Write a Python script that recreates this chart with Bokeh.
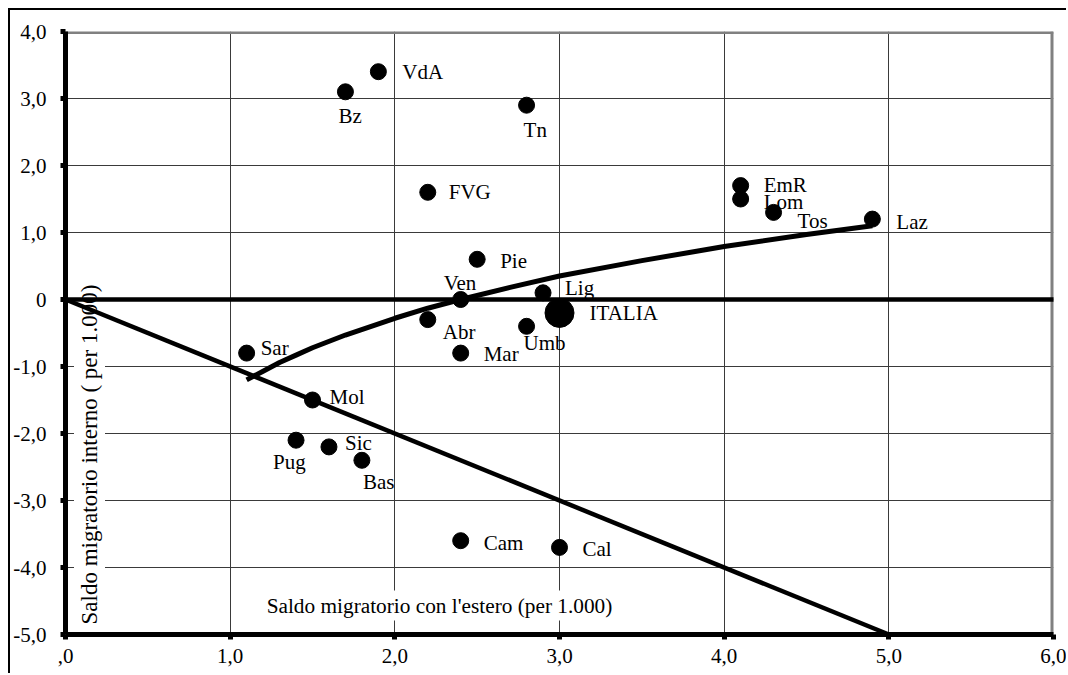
from bokeh.plotting import figure
from bokeh.models import FixedTicker, Label, Range1d, ColumnDataSource
from bokeh.embed import file_html
from bokeh.resources import INLINE
from bokeh.core.properties import value
import math

# ---- data ----
regions = ["VdA", "Bz", "Tn", "FVG", "EmR", "Lom", "Tos", "Laz", "Pie", "Ven", "Lig",
           "Abr", "Umb", "Mar", "Sar", "Mol", "Pug", "Sic", "Bas", "Cam", "Cal"]
saldo_estero = [1.9, 1.7, 2.8, 2.2, 4.1, 4.1, 4.3, 4.9, 2.5, 2.4, 2.9,
                2.2, 2.8, 2.4, 1.1, 1.5, 1.4, 1.6, 1.8, 2.4, 3.0]
saldo_interno = [3.4, 3.1, 2.9, 1.6, 1.7, 1.5, 1.3, 1.2, 0.6, 0.0, 0.1,
                 -0.3, -0.4, -0.8, -0.8, -1.5, -2.1, -2.2, -2.4, -3.6, -3.7]

italia_name = ["ITALIA"]
italia_estero = [3.0]
italia_interno = [-0.2]

# trend curve
trend_x = [1.1, 1.2, 1.3, 1.4, 1.5, 1.7, 2.0, 2.2, 2.4, 2.7, 3.0, 3.5, 4.0, 4.5, 4.9]
trend_y = [-1.2, -1.07, -0.94, -0.83, -0.72, -0.53, -0.28, -0.13, 0.0, 0.18, 0.35,
           0.58, 0.79, 0.97, 1.1]

# diagonal reference line
diag_x = [0.0, 5.0]
diag_y = [0.0, -5.0]

# zero line
zero_x = [0.0, 6.0]
zero_y = [0.0, 0.0]

x_ticks = [0, 1, 2, 3, 4, 5, 6]
x_tick_labels = [",0", "1,0", "2,0", "3,0", "4,0", "5,0", "6,0"]
y_ticks = [4, 3, 2, 1, 0, -1, -2, -3, -4, -5]
y_tick_labels = ["4,0", "3,0", "2,0", "1,0", "0", "-1,0", "-2,0", "-3,0", "-4,0", "-5,0"]

x_title = "Saldo migratorio con l'estero (per 1.000)"
y_title = "Saldo migratorio interno ( per 1.000)"

# ---- label placement (pixel offsets, style only) ----
label_offsets = {
    "VdA": (24, 0), "Bz": (-7, 24), "Tn": (-3, 25), "FVG": (21, 0), "EmR": (23, -1),
    "Lom": (23, 3), "Tos": (24, 9), "Laz": (24, 3), "Pie": (23, 2), "Ven": (-17, -17),
    "Lig": (22, -5), "Abr": (15, 12), "Umb": (-3, 17), "Mar": (23, 1), "Sar": (14, -5),
    "Mol": (17, -3), "Pug": (-23, 22), "Sic": (16, -4), "Bas": (1, 22), "Cam": (23, 2),
    "Cal": (23, 2), "ITALIA": (30, 0),
}

FONT = "Liberation Serif"
FS = "21px"

X0, X1 = 0, 6
Y0, Y1 = -5, 4

p = figure(width=1058, height=665, output_backend="svg", toolbar_location=None,
           x_range=Range1d(X0, X1), y_range=Range1d(Y0, Y1),
           min_border_left=55, min_border_right=15, min_border_top=21, min_border_bottom=41)
p.styles = {"border-top": "2px solid black", "border-left": "2px solid black",
            "margin-top": "8px", "margin-left": "8px"}

p.background_fill_color = "white"
p.border_fill_color = "white"
p.outline_line_color = None

p.xgrid.ticker = FixedTicker(ticks=x_ticks)
p.ygrid.ticker = FixedTicker(ticks=y_ticks)
for g in (p.xgrid[0], p.ygrid[0]):
    g.grid_line_color = "#3a3a3a"
    g.grid_line_width = 1

# grey frame on top and right
p.line([X0, X1], [Y1, Y1], line_color="#808080", line_width=5)
p.line([X1, X1], [Y0, Y1], line_color="#808080", line_width=6)

for ax, ticks, labels in ((p.xaxis[0], x_ticks, x_tick_labels), (p.yaxis[0], y_ticks, y_tick_labels)):
    ax.ticker = FixedTicker(ticks=ticks)
    ax.major_label_overrides = {t: l for t, l in zip(ticks, labels)}
    ax.axis_line_color = "black"
    ax.axis_line_width = 5
    ax.major_tick_line_color = "black"
    ax.major_tick_line_width = 5
    ax.major_tick_out = 5
    ax.major_tick_in = 0
    ax.minor_tick_out = 0
    ax.minor_tick_in = 0
    ax.major_label_text_font = FONT
    ax.major_label_text_font_size = FS
    ax.major_label_text_color = "black"
p.xaxis.major_label_standoff = 9
p.yaxis.major_label_standoff = 14

# axis titles inside the frame, with white boxes
p.add_layout(Label(x=24, y=7, x_units="screen", y_units="screen", text=y_title,
                   angle=math.pi / 2, text_align="left", text_baseline="middle",
                   text_font=FONT, text_font_size="23px", text_color="black",
                   background_fill_color="white", padding=3))
p.add_layout(Label(x=374, y=29, x_units="screen", y_units="screen", text=x_title,
                   text_align="center", text_baseline="middle",
                   text_font=FONT, text_font_size="21.3px", text_color="black",
                   background_fill_color="white", padding=3))

# lines
p.line(zero_x, zero_y, line_color="black", line_width=4.5, level="overlay")
p.line(diag_x, diag_y, line_color="black", line_width=4.5, level="overlay")
p.line(trend_x, trend_y, line_color="black", line_width=5, level="overlay",
       line_join="round")

# points
src = ColumnDataSource(dict(
    x=saldo_estero, y=saldo_interno, name=regions,
    dx=[label_offsets[r][0] for r in regions],
    dy=[label_offsets[r][1] for r in regions],
))
p.scatter("x", "y", source=src, size=16, color="black", level="overlay")
p.text("x", "y", text="name", source=src, x_offset="dx", y_offset="dy",
       text_font=value(FONT), text_font_size=FS, text_color="black",
       text_align="left", text_baseline="middle")

isrc = ColumnDataSource(dict(
    x=italia_estero, y=italia_interno, name=italia_name,
    dx=[label_offsets[n][0] for n in italia_name],
    dy=[label_offsets[n][1] for n in italia_name],
))
p.scatter("x", "y", source=isrc, size=29, color="black", level="overlay")
p.text("x", "y", text="name", source=isrc, x_offset="dx", y_offset="dy",
       text_font=value(FONT), text_font_size=FS, text_color="black",
       text_align="left", text_baseline="middle")

open("out.html", "w").write(file_html(p, INLINE))
